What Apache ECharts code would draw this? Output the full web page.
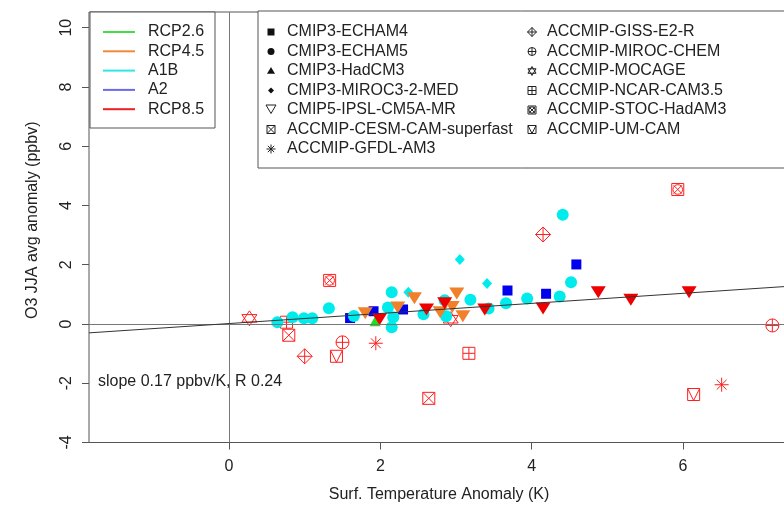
<!DOCTYPE html>
<html>
<head>
<meta charset="utf-8">
<script src="https://cdn.jsdelivr.net/npm/echarts@6/dist/echarts.min.js"></script>
</head>
<body style="margin:0">
<div id="main" style="width:784px;height:505px"></div>
<script>
// points: [surface T anomaly (K), O3 JJA anomaly (ppbv)]
const echam4A2 = [[1.6,0.2],[1.91,0.43],[2.3,0.49],[3.68,1.13],[4.19,1.02],[4.59,2.01]];
const echam5A1B = [[0.64,0.06],[0.84,0.23],[0.99,0.19],[1.1,0.19],[1.32,0.53],[1.65,0.27],
  [2.1,0.56],[2.15,1.07],[2.15,-0.11],[2.17,0.23],[2.57,0.33],[2.85,0.8],[2.87,0.26],
  [3.19,0.82],[3.43,0.52],[3.66,0.7],[3.94,0.86],[4.37,0.93],[4.52,1.41],[4.41,3.69]];
const hadcm3Rcp26 = [[1.93,0.09]];
const mirocA1B = [[2.37,1.07],[3.05,2.18],[3.41,1.37]];
const ipslRcp45 = [[1.8,0.36],[2.23,0.56],[2.45,0.87],[2.79,0.4],[2.95,0.57],[3.01,1.03],[3.09,0.26]];
const ipslRcp85 = [[1.99,0.16],[2.61,0.49],[2.85,0.7],[3.38,0.49],[4.15,0.52],[4.88,1.07],[5.31,0.82],[6.08,1.07]];
const cesm = [[0.79,-0.38],[2.64,-2.51]];
const gfdl = [[1.94,-0.65],[6.51,-2.05]];
const giss = [[1.0,-1.09],[4.15,3.02]];
const mirocChem = [[1.5,-0.62],[7.18,-0.05]];
const mocage = [[0.27,0.19],[2.93,0.16]];
const ncar = [[0.76,0.06],[3.17,-0.99]];
const stoc = [[1.33,1.47],[5.93,4.54]];
const umcam = [[1.42,-1.09],[6.14,-2.38]];

const slope = 0.17, intercept = 0.015, rValue = 0.24;
const xTicks = [0, 2, 4, 6];
const yTicks = [-4, -2, 0, 2, 4, 6, 8, 10];
const xMin = -1.85, xMax = 7.4, yMin = -4, yMax = 10.53;

const scenarioNames = ['RCP2.6', 'RCP4.5', 'A1B', 'A2', 'RCP8.5'];
const scenarioLineColors = ['#44dd44', '#f08a3a', '#30e6e6', '#6a6ae8', '#ee2020'];
const modelNamesLeft = ['CMIP3-ECHAM4', 'CMIP3-ECHAM5', 'CMIP3-HadCM3', 'CMIP3-MIROC3-2-MED',
  'CMIP5-IPSL-CM5A-MR', 'ACCMIP-CESM-CAM-superfast', 'ACCMIP-GFDL-AM3'];
const modelNamesRight = ['ACCMIP-GISS-E2-R', 'ACCMIP-MIROC-CHEM', 'ACCMIP-MOCAGE',
  'ACCMIP-NCAR-CAM3.5', 'ACCMIP-STOC-HadAM3', 'ACCMIP-UM-CAM'];

const FONT = '"Liberation Sans", Arial, sans-serif';
const GREEN = '#22dd22', ORANGE = '#f0802a', CYAN = '#00ecec', BLUE = '#0000ee', RED = '#ee0000';
const OPEN_RED = '#ff1f1f';

// pch-like shapes, drawn in a 20x20 box
const P = {
  square: 'M0,0L20,0L20,20L0,20Z',
  circle: 'M0,10A10,10,0,1,0,20,10A10,10,0,1,0,0,10Z',
  triUp: 'M10,0L20,17L0,17Z',
  diamond: 'M10,0L20,10L10,20L0,10Z',
  triDown: 'M0,0L20,0L10,17Z',
  squareX: 'M0,0L20,0L20,20L0,20ZM0,0L20,20M20,0L0,20',
  asterisk: 'M10,0L10,20M0,10L20,10M3,3L17,17M17,3L3,17',
  diamondPlus: 'M10,0L20,10L10,20L0,10ZM10,0L10,20M0,10L20,10',
  circlePlus: 'M0,10A10,10,0,1,0,20,10A10,10,0,1,0,0,10ZM10,0L10,20M0,10L20,10',
  star: 'M10,0L19,15L1,15ZM10,20L1,5L19,5Z',
  squarePlus: 'M0,0L20,0L20,20L0,20ZM10,0L10,20M0,10L20,10',
  squareCircleX: 'M0,0L20,0L20,20L0,20ZM2,10A8,8,0,1,0,18,10A8,8,0,1,0,2,10ZM3,3L17,17M17,3L3,17',
  squareV: 'M0,0L20,0L20,20L0,20ZM0,0L10,20L20,0'
};

function filled(name, data, symbol, size, color) {
  return {
    name: name, type: 'scatter', data: data, symbol: symbol, symbolSize: size,
    itemStyle: { color: color, opacity: 1 }, silent: true
  };
}
function open(name, data, path, size) {
  return {
    name: name, type: 'scatter', data: data, symbol: 'path://' + path, symbolSize: size,
    itemStyle: { color: 'rgba(255,255,255,0)', borderColor: OPEN_RED, borderWidth: 1, opacity: 1 }, silent: true
  };
}

const series = [
  open('ACCMIP-CESM-CAM-superfast', cesm, P.squareX, 12),
  open('ACCMIP-GFDL-AM3', gfdl, P.asterisk, 14),
  open('ACCMIP-GISS-E2-R', giss, P.diamondPlus, 15),
  open('ACCMIP-MIROC-CHEM', mirocChem, P.circlePlus, 13),
  open('ACCMIP-MOCAGE', mocage, P.star, 15),
  open('ACCMIP-NCAR-CAM3.5', ncar, P.squarePlus, 12),
  open('ACCMIP-STOC-HadAM3', stoc, P.squareCircleX, 12),
  open('ACCMIP-UM-CAM', umcam, P.squareV, 12),
  filled('CMIP3-ECHAM4', echam4A2, 'rect', 10, BLUE),
  filled('CMIP3-ECHAM5', echam5A1B, 'circle', 12, CYAN),
  filled('CMIP3-MIROC3-2-MED', mirocA1B, 'path://' + P.diamond, [10, 11], CYAN),
  filled('CMIP3-HadCM3', hadcm3Rcp26, 'path://' + P.triUp, [11, 10], GREEN),
  filled('CMIP5-IPSL-CM5A-MR', ipslRcp45, 'path://' + P.triDown, [15, 12], ORANGE),
  filled('CMIP5-IPSL-CM5A-MR', ipslRcp85, 'path://' + P.triDown, [15, 12], RED),
  {
    name: 'fit', type: 'line', silent: true, symbol: 'none', z: 5,
    data: [[xMin, intercept + slope * xMin], [xMax, intercept + slope * xMax]],
    lineStyle: { color: '#333', width: 1 }
  }
];
// zero reference lines
series[0].markLine = {
  silent: true, symbol: ['none', 'none'], label: { show: false }, animation: false,
  lineStyle: { color: '#777', type: 'solid', width: 1 },
  data: [{ yAxis: 0 }, { xAxis: 0 }]
};

// turn one of the 20x20 shapes into graphic primitives centred on (cx, cy)
function iconParts(d, cx, cy, s, solid) {
  const k = s / 20;
  const style = solid ? { fill: '#111', stroke: null } : { fill: null, stroke: '#222', lineWidth: 1 };
  const parts = [];
  d.split('M').filter(Boolean).forEach(function (sub) {
    if (sub.indexOf('A') >= 0) {
      const n = sub.replace('Z', '').split(/[A,]/).map(Number);
      parts.push({ type: 'circle', shape: { cx: cx + (n[0] + n[2] - 10) * k, cy: cy + (n[1] - 10) * k, r: n[2] * k }, style: style });
    } else {
      const pts = sub.replace('Z', '').split('L').map(function (p) {
        const q = p.split(',').map(Number);
        return [cx + (q[0] - 10) * k, cy + (q[1] - 10) * k];
      });
      parts.push({ type: /Z$/.test(sub) ? 'polygon' : 'polyline', shape: { points: pts }, style: style });
    }
  });
  return parts;
}

// legends drawn as boxes
const graphics = [];
graphics.push({ type: 'rect', shape: { x: 90, y: 12, width: 125, height: 116 },
  style: { fill: '#fff', stroke: '#555', lineWidth: 1 } });
scenarioNames.forEach(function (n, i) {
  const y = 32 + i * 19.3;
  graphics.push({ type: 'line', shape: { x1: 103, y1: y, x2: 135, y2: y },
    style: { stroke: scenarioLineColors[i], lineWidth: 2 } });
  graphics.push({ type: 'text', x: 148, y: y,
    style: { text: n, font: '16px ' + FONT, fill: '#222', verticalAlign: 'middle' } });
});
graphics.push({ type: 'rect', shape: { x: 258, y: 11, width: 600, height: 157 },
  style: { fill: '#fff', stroke: '#555', lineWidth: 1 } });
const leftIcons = [[P.square, 7, true], [P.circle, 7, true], [P.triUp, 8, true],
  [P.diamond, 6, true], [P.triDown, 10, false], [P.squareX, 8, false], [P.asterisk, 9, false]];
const rightIcons = [[P.diamondPlus, 9, false], [P.circlePlus, 8, false], [P.star, 9, false],
  [P.squarePlus, 8, false], [P.squareCircleX, 8, false], [P.squareV, 8, false]];
function addModelColumn(names, icons, sx, tx) {
  names.forEach(function (n, i) {
    const y = 32 + i * 19.5;
    const ic = icons[i];
    iconParts(ic[0], sx, y, ic[1], ic[2]).forEach(function (g) { graphics.push(g); });
    graphics.push({ type: 'text', x: tx, y: y,
      style: { text: n, font: '16px ' + FONT, fill: '#222', verticalAlign: 'middle' } });
  });
}
addModelColumn(modelNamesLeft, leftIcons, 271, 287);
addModelColumn(modelNamesRight, rightIcons, 532, 547);
graphics.push({ type: 'text', x: 98, y: 382,
  style: { text: 'slope ' + slope + ' ppbv/K, R ' + rValue, font: '16px ' + FONT, fill: '#222', verticalAlign: 'middle' } });

const chart = echarts.init(document.getElementById('main'));
chart.setOption({
  animation: false,
  backgroundColor: '#fff',
  grid: { left: 89, top: 12, width: 700, height: 430.5, outerBoundsMode: 'none',
    show: true, borderColor: '#555', borderWidth: 1 },
  xAxis: {
    type: 'value', min: xMin, max: xMax,
    splitLine: { show: false },
    axisLine: { show: false, onZero: false },
    axisTick: { show: true, length: 7, customValues: xTicks, lineStyle: { color: '#555' } },
    axisLabel: { customValues: xTicks, fontSize: 16, fontFamily: FONT, color: '#222', margin: 16 },
    name: 'Surf. Temperature Anomaly (K)', nameLocation: 'middle', nameGap: 44,
    nameTextStyle: { fontSize: 16, fontFamily: FONT, color: '#222' }
  },
  yAxis: {
    type: 'value', min: yMin, max: yMax,
    splitLine: { show: false },
    axisLine: { show: false, onZero: false },
    axisTick: { show: true, length: 7, customValues: yTicks, lineStyle: { color: '#555' } },
    axisLabel: { customValues: yTicks, rotate: 90, fontSize: 16, fontFamily: FONT, color: '#222', margin: 14 },
    name: 'O3 JJA avg anomaly (ppbv)', nameLocation: 'middle', nameGap: 48,
    nameTextStyle: { fontSize: 16, fontFamily: FONT, color: '#222', padding: [0, 0, 0, 14] }
  },
  graphic: { elements: graphics },
  series: series
});
</script>
</body>
</html>
